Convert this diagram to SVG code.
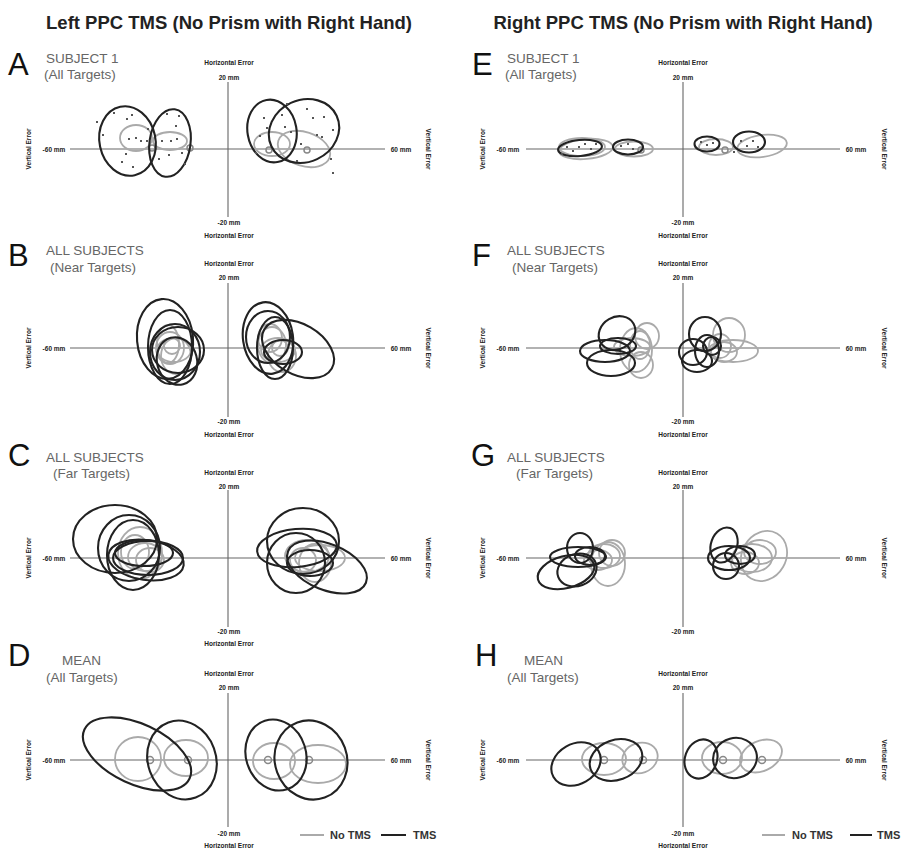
<svg xmlns="http://www.w3.org/2000/svg" width="902" height="849" viewBox="0 0 902 849">
<style>
text{font-family:"Liberation Sans",Arial,sans-serif}
.ttl{font-size:18.5px;font-weight:bold;fill:#222;text-anchor:middle}
.pl{font-size:31px;fill:#111}
.st{font-size:13.5px;fill:#666}
.lab{font-size:6.5px;font-weight:bold;fill:#222;text-anchor:middle}
.ax{stroke:#666;stroke-width:1.1;fill:none}
.k{fill:none;stroke:#222;stroke-width:2.1}
.g{fill:none;stroke:#aaa;stroke-width:1.8}
.c{fill:none;stroke:#888;stroke-width:1.5}
.d{fill:#555}
.lg{font-size:11px;font-weight:bold;fill:#333}
</style>
<rect width="902" height="849" fill="#fff"/>
<text class="ttl" x="229" y="29">Left PPC TMS (No Prism with Right Hand)</text>
<text class="ttl" x="683" y="29">Right PPC TMS (No Prism with Right Hand)</text>

<!-- Panel A -->
<g id="panelA">
<text class="pl" x="8" y="75">A</text>
<text class="st" x="46" y="63">SUBJECT 1</text>
<text class="st" x="44" y="79">(All Targets)</text>
<line class="ax" x1="228" y1="82" x2="228" y2="217"/>
<line class="ax" x1="70" y1="149" x2="385" y2="149"/>
<text class="lab" x="229" y="65">Horizontal Error</text>
<text class="lab" x="229" y="80">20 mm</text>
<text class="lab" x="229" y="225">-20 mm</text>
<text class="lab" x="229" y="238">Horizontal Error</text>
<text class="lab" x="54" y="151.5">-60 mm</text>
<text class="lab" x="401" y="151.5">60 mm</text>
<text class="lab" transform="translate(31,149) rotate(-90)">Vertical Error</text>
<text class="lab" transform="translate(426,149) rotate(90)">Vertical Error</text>
<ellipse class="g" cx="136" cy="138" rx="16" ry="13"/>
<ellipse class="g" cx="170" cy="141" rx="17" ry="9"/>
<ellipse class="g" cx="272" cy="144" rx="18" ry="12"/>
<ellipse class="g" cx="304" cy="149" rx="27" ry="17" transform="rotate(18 304 149)"/>
<circle class="c" cx="152" cy="148" r="3"/>
<circle class="c" cx="190" cy="148" r="3"/>
<circle class="c" cx="269" cy="150" r="3"/>
<circle class="c" cx="307" cy="150" r="3"/>
<ellipse class="k" cx="127.5" cy="141" rx="28" ry="35" transform="rotate(-12 127.5 141)"/>
<ellipse class="k" cx="170" cy="143" rx="20.5" ry="34" transform="rotate(8 170 143)"/>
<ellipse class="k" cx="272" cy="131" rx="24.5" ry="31.5" transform="rotate(-10 272 131)"/>
<ellipse class="k" cx="304" cy="131" rx="36" ry="31" transform="rotate(-25 304 131)"/>
<g class="d">
<rect x="113" y="112" width="2" height="2"/><rect x="126" y="118" width="2" height="2"/><rect x="131" y="114" width="2" height="2"/><rect x="96" y="121" width="2" height="2"/><rect x="102" y="134" width="2" height="2"/><rect x="128" y="138" width="2" height="2"/><rect x="135" y="137" width="2" height="2"/><rect x="140" y="140" width="2" height="2"/><rect x="125" y="153" width="2" height="2"/><rect x="121" y="161" width="2" height="2"/><rect x="132" y="166" width="2" height="2"/><rect x="146" y="140" width="2" height="2"/><rect x="147" y="128" width="2" height="2"/>
<rect x="166" y="113" width="2" height="2"/><rect x="178" y="115" width="2" height="2"/><rect x="175" y="125" width="2" height="2"/><rect x="170" y="140" width="2" height="2"/><rect x="176" y="138" width="2" height="2"/><rect x="161" y="140" width="2" height="2"/><rect x="168" y="154" width="2" height="2"/><rect x="158" y="158" width="2" height="2"/><rect x="181" y="152" width="2" height="2"/><rect x="184" y="163" width="2" height="2"/>
<rect x="263" y="117" width="2" height="2"/><rect x="281" y="114" width="2" height="2"/><rect x="286" y="103" width="2" height="2"/><rect x="284" y="126" width="2" height="2"/><rect x="266" y="127" width="2" height="2"/><rect x="259" y="135" width="2" height="2"/><rect x="255" y="152" width="2" height="2"/><rect x="290" y="131" width="2" height="2"/><rect x="306" y="108" width="2" height="2"/><rect x="312" y="117" width="2" height="2"/><rect x="323" y="116" width="2" height="2"/><rect x="332" y="129" width="2" height="2"/><rect x="316" y="134" width="2" height="2"/><rect x="300" y="143" width="2" height="2"/><rect x="321" y="136" width="2" height="2"/><rect x="330" y="158" width="2" height="2"/><rect x="296" y="160" width="2" height="2"/><rect x="332" y="172" width="2" height="2"/>
</g>
</g>

<!-- Panel E -->
<g id="panelE">
<text class="pl" x="472" y="75">E</text>
<text class="st" x="507" y="63">SUBJECT 1</text>
<text class="st" x="505" y="79">(All Targets)</text>
<line class="ax" x1="683" y1="82" x2="683" y2="217"/>
<line class="ax" x1="526" y1="149" x2="840" y2="149"/>
<text class="lab" x="683" y="65">Horizontal Error</text>
<text class="lab" x="683" y="80">20 mm</text>
<text class="lab" x="683" y="225">-20 mm</text>
<text class="lab" x="683" y="238">Horizontal Error</text>
<text class="lab" x="508" y="151.5">-60 mm</text>
<text class="lab" x="856" y="151.5">60 mm</text>
<text class="lab" transform="translate(485,149) rotate(-90)">Vertical Error</text>
<text class="lab" transform="translate(882,149) rotate(90)">Vertical Error</text>
<ellipse class="g" cx="586" cy="149" rx="27" ry="10" transform="rotate(-5 586 149)"/>
<ellipse class="g" cx="582" cy="147" rx="23" ry="9"/>
<ellipse class="g" cx="634" cy="149" rx="19" ry="7.5"/>
<ellipse class="g" cx="716" cy="147" rx="17" ry="8"/>
<ellipse class="g" cx="762" cy="146" rx="25" ry="11" transform="rotate(-8 762 146)"/>
<circle class="c" cx="641" cy="150" r="3"/>
<circle class="c" cx="725" cy="150" r="3"/>
<ellipse class="k" cx="580" cy="148" rx="22" ry="8" transform="rotate(-5 580 148)"/>
<ellipse class="k" cx="628" cy="147" rx="15" ry="7.5"/>
<ellipse class="k" cx="707" cy="144" rx="12.5" ry="7.5"/>
<ellipse class="k" cx="749" cy="142" rx="16" ry="10.5"/>
<g class="d">
<rect x="566" y="146" width="2" height="2"/><rect x="572" y="150" width="2" height="2"/><rect x="578" y="146" width="2" height="2"/><rect x="584" y="143" width="2" height="2"/><rect x="590" y="148" width="2" height="2"/><rect x="561" y="153" width="2" height="2"/><rect x="595" y="143" width="2" height="2"/><rect x="620" y="145" width="2" height="2"/><rect x="627" y="143" width="2" height="2"/><rect x="632" y="148" width="2" height="2"/><rect x="700" y="141" width="2" height="2"/><rect x="706" y="144" width="2" height="2"/><rect x="712" y="142" width="2" height="2"/><rect x="740" y="140" width="2" height="2"/><rect x="746" y="145" width="2" height="2"/><rect x="752" y="140" width="2" height="2"/><rect x="757" y="146" width="2" height="2"/><rect x="733" y="151" width="2" height="2"/>
</g>
</g>

<!-- Panel B -->
<g id="panelB">
<text class="pl" x="8" y="266">B</text>
<text class="st" x="46" y="255">ALL SUBJECTS</text>
<text class="st" x="50" y="272">(Near Targets)</text>
<line class="ax" x1="228" y1="283" x2="228" y2="417"/>
<line class="ax" x1="70" y1="348" x2="385" y2="348"/>
<text class="lab" x="229" y="266">Horizontal Error</text>
<text class="lab" x="229" y="280">20 mm</text>
<text class="lab" x="229" y="424">-20 mm</text>
<text class="lab" x="229" y="437">Horizontal Error</text>
<text class="lab" x="54" y="350.5">-60 mm</text>
<text class="lab" x="401" y="350.5">60 mm</text>
<text class="lab" transform="translate(31,348) rotate(-90)">Vertical Error</text>
<text class="lab" transform="translate(426,348) rotate(90)">Vertical Error</text>
<ellipse class="g" cx="170" cy="348" rx="14" ry="16"/>
<ellipse class="g" cx="174" cy="350" rx="17" ry="12"/>
<ellipse class="g" cx="168" cy="344" rx="11" ry="19"/>
<ellipse class="g" cx="176" cy="356" rx="15" ry="18"/>
<ellipse class="g" cx="172" cy="346" rx="8" ry="8"/>
<ellipse class="g" cx="272" cy="345" rx="14" ry="18"/>
<ellipse class="g" cx="278" cy="350" rx="17" ry="12"/>
<ellipse class="g" cx="270" cy="338" rx="12" ry="14"/>
<ellipse class="g" cx="282" cy="356" rx="14" ry="16"/>
<ellipse class="g" cx="280" cy="348" rx="8" ry="8"/>
<ellipse class="k" cx="165" cy="339" rx="28" ry="40" transform="rotate(-5 165 339)"/>
<ellipse class="k" cx="170" cy="347" rx="22" ry="37"/>
<ellipse class="k" cx="175" cy="352" rx="25" ry="28"/>
<ellipse class="k" cx="178" cy="350" rx="26" ry="23"/>
<ellipse class="k" cx="177" cy="361" rx="20" ry="24" transform="rotate(-15 177 361)"/>
<ellipse class="k" cx="268" cy="338" rx="25" ry="36" transform="rotate(-8 268 338)"/>
<ellipse class="k" cx="268" cy="337" rx="22" ry="26"/>
<ellipse class="k" cx="298" cy="349" rx="39" ry="25" transform="rotate(30 298 349)"/>
<ellipse class="k" cx="283" cy="352" rx="19" ry="12"/>
<ellipse class="k" cx="275" cy="348" rx="18" ry="31"/>
</g>

<!-- Panel F -->
<g id="panelF">
<text class="pl" x="472" y="266">F</text>
<text class="st" x="507" y="255">ALL SUBJECTS</text>
<text class="st" x="512" y="272">(Near Targets)</text>
<line class="ax" x1="683" y1="283" x2="683" y2="417"/>
<line class="ax" x1="526" y1="348" x2="840" y2="348"/>
<text class="lab" x="683" y="266">Horizontal Error</text>
<text class="lab" x="683" y="280">20 mm</text>
<text class="lab" x="683" y="424">-20 mm</text>
<text class="lab" x="683" y="437">Horizontal Error</text>
<text class="lab" x="508" y="350.5">-60 mm</text>
<text class="lab" x="856" y="350.5">60 mm</text>
<text class="lab" transform="translate(485,348) rotate(-90)">Vertical Error</text>
<text class="lab" transform="translate(882,348) rotate(90)">Vertical Error</text>
<ellipse class="g" cx="636" cy="350" rx="16" ry="22"/>
<ellipse class="g" cx="647" cy="336" rx="12" ry="13"/>
<ellipse class="g" cx="641" cy="365" rx="12" ry="13"/>
<ellipse class="g" cx="632" cy="347" rx="18" ry="9"/>
<ellipse class="g" cx="640" cy="345" rx="10" ry="14"/>
<ellipse class="g" cx="729" cy="335" rx="16" ry="17"/>
<ellipse class="g" cx="733" cy="351" rx="25" ry="11"/>
<ellipse class="g" cx="720" cy="346" rx="11" ry="12"/>
<ellipse class="g" cx="724" cy="352" rx="13" ry="10"/>
<ellipse class="k" cx="617" cy="333" rx="19" ry="16" transform="rotate(-30 617 333)"/>
<ellipse class="k" cx="605" cy="351" rx="25" ry="11"/>
<ellipse class="k" cx="611" cy="363" rx="24" ry="13"/>
<ellipse class="k" cx="618" cy="346" rx="18" ry="8"/>
<ellipse class="k" cx="705" cy="334" rx="16" ry="17"/>
<ellipse class="k" cx="693" cy="352" rx="14" ry="13"/>
<ellipse class="k" cx="697" cy="361" rx="15" ry="11"/>
<ellipse class="k" cx="707" cy="351" rx="12" ry="16"/>
<ellipse class="k" cx="712" cy="346" rx="9" ry="9"/>
</g>

<!-- Panel C -->
<g id="panelC">
<text class="pl" x="8" y="466">C</text>
<text class="st" x="46" y="462">ALL SUBJECTS</text>
<text class="st" x="53" y="478">(Far Targets)</text>
<line class="ax" x1="228" y1="490" x2="228" y2="627"/>
<line class="ax" x1="70" y1="558" x2="385" y2="558"/>
<text class="lab" x="229" y="475">Horizontal Error</text>
<text class="lab" x="229" y="489">20 mm</text>
<text class="lab" x="229" y="634">-20 mm</text>
<text class="lab" x="229" y="646">Horizontal Error</text>
<text class="lab" x="54" y="560.5">-60 mm</text>
<text class="lab" x="401" y="560.5">60 mm</text>
<text class="lab" transform="translate(31,558) rotate(-90)">Vertical Error</text>
<text class="lab" transform="translate(426,558) rotate(90)">Vertical Error</text>
<ellipse class="g" cx="140" cy="553" rx="22" ry="26"/>
<ellipse class="g" cx="145" cy="557" rx="17" ry="14"/>
<ellipse class="g" cx="135" cy="552" rx="14" ry="17"/>
<ellipse class="g" cx="150" cy="560" rx="14" ry="12"/>
<ellipse class="g" cx="307" cy="556" rx="22" ry="16"/>
<ellipse class="g" cx="315" cy="563" rx="16" ry="19"/>
<ellipse class="g" cx="320" cy="558" rx="25" ry="13"/>
<ellipse class="g" cx="303" cy="560" rx="13" ry="12"/>
<ellipse class="k" cx="115" cy="539" rx="42" ry="34"/>
<ellipse class="k" cx="129" cy="548" rx="31" ry="33"/>
<ellipse class="k" cx="133" cy="555" rx="26" ry="35"/>
<ellipse class="k" cx="146" cy="560" rx="38" ry="20" transform="rotate(8 146 560)"/>
<ellipse class="k" cx="148" cy="558" rx="35" ry="17"/>
<ellipse class="k" cx="144" cy="553" rx="29" ry="13"/>
<ellipse class="k" cx="303" cy="541" rx="36" ry="33"/>
<ellipse class="k" cx="297" cy="548" rx="40" ry="19" transform="rotate(-5 297 548)"/>
<ellipse class="k" cx="296" cy="563" rx="29" ry="30"/>
<ellipse class="k" cx="327" cy="567" rx="42" ry="23" transform="rotate(22 327 567)"/>
<ellipse class="k" cx="310" cy="563" rx="23" ry="13"/>
</g>

<!-- Panel G -->
<g id="panelG">
<text class="pl" x="471" y="466">G</text>
<text class="st" x="507" y="462">ALL SUBJECTS</text>
<text class="st" x="516" y="478">(Far Targets)</text>
<line class="ax" x1="683" y1="490" x2="683" y2="627"/>
<line class="ax" x1="526" y1="558" x2="840" y2="558"/>
<text class="lab" x="683" y="475">Horizontal Error</text>
<text class="lab" x="683" y="489">20 mm</text>
<text class="lab" x="683" y="634">-20 mm</text>
<text class="lab" x="508" y="560.5">-60 mm</text>
<text class="lab" x="856" y="560.5">60 mm</text>
<text class="lab" transform="translate(485,558) rotate(-90)">Vertical Error</text>
<text class="lab" transform="translate(882,558) rotate(90)">Vertical Error</text>
<ellipse class="g" cx="608" cy="564" rx="17" ry="22"/>
<ellipse class="g" cx="604" cy="556" rx="16" ry="12"/>
<ellipse class="g" cx="612" cy="553" rx="13" ry="13"/>
<ellipse class="g" cx="598" cy="560" rx="14" ry="10"/>
<ellipse class="g" cx="764" cy="556" rx="22" ry="26" transform="rotate(30 764 556)"/>
<ellipse class="g" cx="752" cy="558" rx="20" ry="14"/>
<ellipse class="g" cx="760" cy="552" rx="16" ry="12"/>
<ellipse class="g" cx="745" cy="563" rx="14" ry="11"/>
<ellipse class="k" cx="566" cy="572" rx="29" ry="16" transform="rotate(-15 566 572)"/>
<ellipse class="k" cx="580" cy="548" rx="13" ry="15"/>
<ellipse class="k" cx="578" cy="557" rx="28" ry="10"/>
<ellipse class="k" cx="577" cy="570" rx="20" ry="16" transform="rotate(-20 577 570)"/>
<ellipse class="k" cx="590" cy="556" rx="15" ry="9"/>
<ellipse class="k" cx="724" cy="545" rx="13" ry="18" transform="rotate(20 724 545)"/>
<ellipse class="k" cx="729" cy="558" rx="21" ry="12"/>
<ellipse class="k" cx="726" cy="566" rx="13" ry="13"/>
<ellipse class="k" cx="740" cy="555" rx="15" ry="9"/>
</g>

<!-- Panel D -->
<g id="panelD">
<text class="pl" x="8" y="666">D</text>
<text class="st" x="62" y="665">MEAN</text>
<text class="st" x="46" y="682">(All Targets)</text>
<line class="ax" x1="228" y1="693" x2="228" y2="827"/>
<line class="ax" x1="70" y1="760" x2="385" y2="760"/>
<text class="lab" x="229" y="676">Horizontal Error</text>
<text class="lab" x="229" y="690">20 mm</text>
<text class="lab" x="229" y="836">-20 mm</text>
<text class="lab" x="229" y="848">Horizontal Error</text>
<text class="lab" x="54" y="762.5">-60 mm</text>
<text class="lab" x="401" y="762.5">60 mm</text>
<text class="lab" transform="translate(31,760) rotate(-90)">Vertical Error</text>
<text class="lab" transform="translate(426,760) rotate(90)">Vertical Error</text>
<ellipse class="g" cx="138" cy="759" rx="23" ry="22"/>
<ellipse class="g" cx="186" cy="758" rx="22" ry="18"/>
<ellipse class="g" cx="274" cy="761" rx="21" ry="18"/>
<ellipse class="g" cx="318" cy="764" rx="28" ry="19"/>
<circle class="c" cx="150" cy="760" r="3.5"/>
<circle class="c" cx="188" cy="760" r="3.5"/>
<circle class="c" cx="268" cy="760" r="3.5"/>
<circle class="c" cx="309" cy="760" r="3.5"/>
<ellipse class="k" cx="137" cy="754" rx="58" ry="30" transform="rotate(25 137 754)"/>
<ellipse class="k" cx="182" cy="760" rx="34" ry="40" transform="rotate(-20 182 760)"/>
<ellipse class="k" cx="276" cy="755" rx="30" ry="36" transform="rotate(-18 276 755)"/>
<ellipse class="k" cx="311" cy="760" rx="36" ry="40" transform="rotate(-20 311 760)"/>
<line x1="300" y1="835" x2="324" y2="835" stroke="#aaa" stroke-width="2"/>
<text class="lg" x="330" y="839">No TMS</text>
<line x1="381" y1="835" x2="406" y2="835" stroke="#222" stroke-width="2"/>
<text class="lg" x="413" y="839">TMS</text>
</g>

<!-- Panel H -->
<g id="panelH">
<text class="pl" x="475" y="666">H</text>
<text class="st" x="524" y="665">MEAN</text>
<text class="st" x="507" y="682">(All Targets)</text>
<line class="ax" x1="683" y1="693" x2="683" y2="827"/>
<line class="ax" x1="526" y1="760" x2="840" y2="760"/>
<text class="lab" x="683" y="676">Horizontal Error</text>
<text class="lab" x="683" y="690">20 mm</text>
<text class="lab" x="683" y="836">-20 mm</text>
<text class="lab" x="683" y="848">Horizontal Error</text>
<text class="lab" x="508" y="762.5">-60 mm</text>
<text class="lab" x="856" y="762.5">60 mm</text>
<text class="lab" transform="translate(485,760) rotate(-90)">Vertical Error</text>
<text class="lab" transform="translate(882,760) rotate(90)">Vertical Error</text>
<ellipse class="g" cx="604" cy="759" rx="22" ry="16"/>
<ellipse class="g" cx="640" cy="758" rx="18" ry="15" transform="rotate(-20 640 758)"/>
<ellipse class="g" cx="722" cy="758" rx="20" ry="16"/>
<ellipse class="g" cx="761" cy="756" rx="22" ry="15" transform="rotate(-25 761 756)"/>
<circle class="c" cx="604" cy="760" r="3.5"/>
<circle class="c" cx="643" cy="760" r="3.5"/>
<circle class="c" cx="723" cy="760" r="3.5"/>
<circle class="c" cx="762" cy="760" r="3.5"/>
<ellipse class="k" cx="576" cy="764" rx="26" ry="20" transform="rotate(-30 576 764)"/>
<ellipse class="k" cx="616" cy="760" rx="27" ry="20" transform="rotate(-20 616 760)"/>
<ellipse class="k" cx="701" cy="759" rx="16" ry="20" transform="rotate(20 701 759)"/>
<ellipse class="k" cx="735" cy="758" rx="22" ry="20" transform="rotate(-15 735 758)"/>
<line x1="762" y1="835" x2="785" y2="835" stroke="#aaa" stroke-width="2"/>
<text class="lg" x="792" y="839">No TMS</text>
<line x1="850" y1="835" x2="872" y2="835" stroke="#222" stroke-width="2"/>
<text class="lg" x="877" y="839">TMS</text>
</g>
</svg>
